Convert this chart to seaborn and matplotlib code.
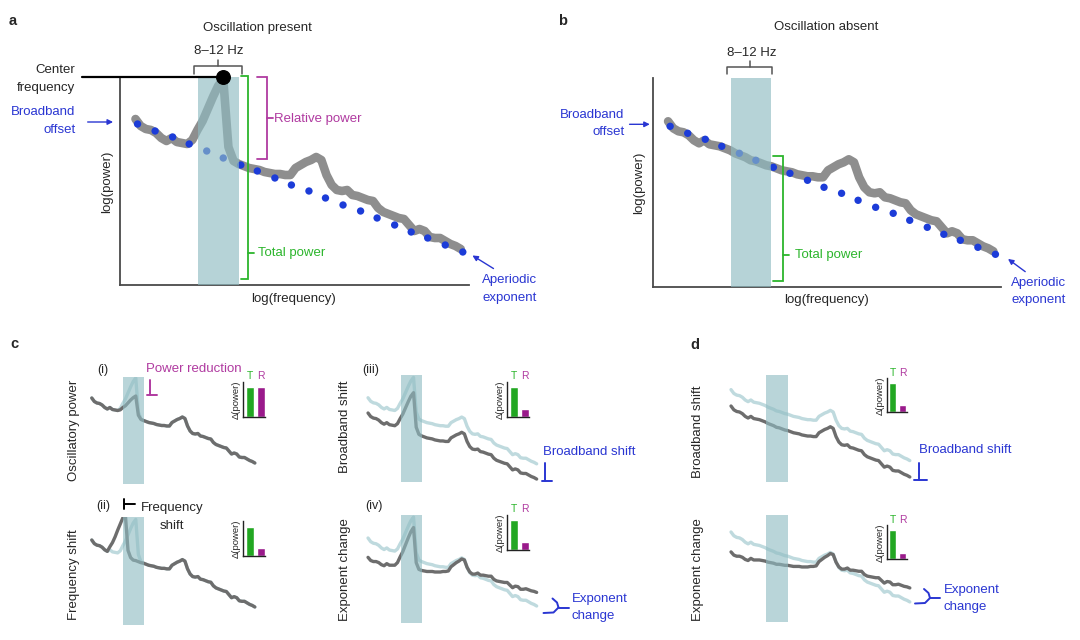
import numpy as np
import pandas as pd
import matplotlib
matplotlib.use("Agg")
import matplotlib.pyplot as plt
import seaborn as sns

sns.set_theme(style="white")
plt.rcParams['font.family'] = ['Liberation Sans', 'DejaVu Sans']

# ---------------- data (arbitrary log units) ----------------
log_freq = list(range(15, 331, 5))
base_spectrum = [166, 159, 156, 155, 152, 147, 144, 147, 143, 142,
                 141, 139, 137, 134, 132, 130, 127, 126, 124, 122,
                 121, 119, 117, 116, 115, 113, 112, 111, 111, 110,
                 110, 117, 120, 123, 125, 128, 125, 110, 100, 95,
                 94, 95, 90, 89, 87, 85, 84, 77, 73, 71,
                 69, 67, 66, 60, 54, 56, 54, 48, 47, 47,
                 44, 41, 39, 36]
alpha_peak = [0] * 11 + [6, 18, 30, 44, 58, 72, 80, 14, 2] + [0] * 44
fit_freq = [17, 34, 51, 67, 84, 100, 117, 133, 150, 166, 183, 199, 216, 233, 249, 266, 282, 298, 315, 332]
fit_power = [161, 154, 148, 141, 134, 127, 120, 114, 107, 100, 94, 87, 80, 74, 67, 60, 53, 47, 40, 33]
band_lo, band_hi = 76, 115
peak_reduction = 0.55
peak_shift_steps = 4
broadband_shift = 30
exponent_tilt = 0.2
tilt_pivot = 200
bar_labels = ["T", "R"]
bars_c_i = [0.86, 0.86]
bars_c_ii = [0.84, 0.22]
bars_c_iii = [0.86, 0.21]
bars_c_iv = [0.86, 0.24]
bars_d_top = [0.87, 0.19]
bars_d_bot = [0.86, 0.19]

# ---------------- styles ----------------
W, H = 1080, 640
BLUE = "#2a36d2"
DOT = "#1c3cd8"
GREEN = "#2cb52c"
GREEN_BAR = "#22a722"
MAG = "#b03aa0"
MAG_BAR = "#9a1a8b"
BAND = "#8fbcc2"
GRAY_THICK = "#8e8e8e"
GRAY = "#6d6d6d"
LIGHT = "#bfdade"
FS = 9.5
LS = 1.6

fig = plt.figure(figsize=(W / 100, H / 100), dpi=100)
fig.patch.set_facecolor("white")


def px_axes(left, top, width, height):
    return fig.add_axes([left / W, 1 - (top + height) / H, width / W, height / H])


ov = px_axes(0, 0, W, H)
ov.set_xlim(0, W)
ov.set_ylim(H, 0)
ov.axis("off")

freq = np.array(log_freq, dtype=float)
base = np.array(base_spectrum, dtype=float)
peak = np.array(alpha_peak, dtype=float)
peak_shifted = np.array(alpha_peak[peak_shift_steps:] + [0] * peak_shift_steps, dtype=float)
tilt = exponent_tilt * (freq - tilt_pivot)


def vbracket(ax, x, y0, y1, tick, mid_y, mid_len, color, lw=1.3):
    ax.plot([x + tick, x, x, x + tick], [y0, y0, y1, y1], color=color, lw=lw, clip_on=False,
            solid_joinstyle="miter")
    ax.plot([x, x + mid_len], [mid_y, mid_y], color=color, lw=lw, clip_on=False)


def hbracket(ax, x0, x1, y, drop, rise, color="#555555", lw=1.1):
    ax.plot([x0, x0, x1, x1], [y - drop, y, y, y - drop], color=color, lw=lw, clip_on=False)
    xm = (x0 + x1) / 2
    ax.plot([xm, xm], [y, y + rise], color=color, lw=lw, clip_on=False)


def big_panel(ax, spectrum, xmax, ymax):
    ax.set_xlim(0, xmax)
    ax.set_ylim(0, ymax)
    df = pd.DataFrame({"f": freq, "p": spectrum})
    sns.lineplot(data=df, x="f", y="p", ax=ax, color=GRAY_THICK, lw=6.2, errorbar=None,
                 solid_capstyle="round", solid_joinstyle="round", zorder=2)
    sns.scatterplot(x=fit_freq, y=fit_power, ax=ax, color=DOT, s=28, edgecolor="none",
                    linewidth=0, zorder=3)
    ax.axvspan(band_lo, band_hi, color=BAND, alpha=0.65, lw=0, zorder=4)
    ax.set_xticks([])
    ax.set_yticks([])
    ax.set_xlabel("")
    ax.set_ylabel("")
    for s in ["top", "right"]:
        ax.spines[s].set_visible(False)
    for s in ["left", "bottom"]:
        ax.spines[s].set_color("#4a4a4a")
        ax.spines[s].set_linewidth(1.3)
    ax.patch.set_alpha(0)


# ---------------- panel a ----------------
axA = px_axes(120, 77, 349, 208)
spec_a = base + peak
big_panel(axA, spec_a, 338, 208)
ipk = int(np.argmax(spec_a))
pk_x, pk_y = freq[ipk], spec_a[ipk]
axA.plot([-37, pk_x], [pk_y + 2, pk_y + 2], color="black", lw=1.6, clip_on=False, zorder=6)
axA.scatter([pk_x], [pk_y + 2], s=95, color="black", zorder=7, clip_on=False)
axA.text(133, 257, "Oscillation present", ha="center", va="center", fontsize=FS)
axA.text(96, 234, "8–12 Hz", ha="center", va="center", fontsize=FS)
hbracket(axA, 72, 118, 219, 8, 6)
axA.text(-43, 206, "Center\nfrequency", ha="right", va="center", fontsize=FS, linespacing=LS)
axA.text(-43, 164, "Broadband\noffset", ha="right", va="center", fontsize=FS, color=BLUE,
         linespacing=LS)
axA.annotate("", xy=(-4, 163), xytext=(-34, 163),
             arrowprops=dict(arrowstyle="-|>", color=BLUE, lw=1.0, mutation_scale=8),
             annotation_clip=False)
axA.text(-12, 103, "log(power)", rotation=90, ha="center", va="center", fontsize=FS)
axA.text(168, -14, "log(frequency)", ha="center", va="center", fontsize=FS)
vbracket(axA, 142, 208, 126, -9, 167, 6, MAG)
axA.text(149, 166, "Relative power", ha="left", va="center", fontsize=FS, color=MAG)
vbracket(axA, 124, 209, 6, -7, 32, 6, GREEN)
axA.text(134, 32, "Total power", ha="left", va="center", fontsize=FS, color=GREEN)
axA.text(377, -4, "Aperiodic\nexponent", ha="center", va="center", fontsize=FS, color=BLUE,
         linespacing=LS)
axA.annotate("", xy=(339, 31), xytext=(364, 15),
             arrowprops=dict(arrowstyle="-|>", color=BLUE, lw=1.0, mutation_scale=8),
             annotation_clip=False)

# ---------------- panel b ----------------
axB = px_axes(652.6, 78.3, 348, 209)
big_panel(axB, base, 337, 209)
axB.text(168, 260, "Oscillation absent", ha="center", va="center", fontsize=FS)
axB.text(96, 234, "8–12 Hz", ha="center", va="center", fontsize=FS)
hbracket(axB, 72, 116, 220, 7, 6)
axB.text(-27, 164, "Broadband\noffset", ha="right", va="center", fontsize=FS, color=BLUE,
         linespacing=LS)
axB.annotate("", xy=(0, 163), xytext=(-25, 163),
             arrowprops=dict(arrowstyle="-|>", color=BLUE, lw=1.0, mutation_scale=8),
             annotation_clip=False)
axB.text(-13, 104, "log(power)", rotation=90, ha="center", va="center", fontsize=FS)
axB.text(168, -13, "log(frequency)", ha="center", va="center", fontsize=FS)
vbracket(axB, 126, 131, 6, -9, 32, 6, GREEN)
axB.text(138, 32, "Total power", ha="left", va="center", fontsize=FS, color=GREEN)
axB.text(374, -4, "Aperiodic\nexponent", ha="center", va="center", fontsize=FS, color=BLUE,
         linespacing=LS)
axB.annotate("", xy=(342, 30), xytext=(363, 14),
             arrowprops=dict(arrowstyle="-|>", color=BLUE, lw=1.0, mutation_scale=8),
             annotation_clip=False)


# ---------------- small panels ----------------
def small_panel(left, top, width, height, ylim, light, dark):
    ax = px_axes(left, top, width, height)
    ax.set_xlim(0, 340)
    ax.set_ylim(*ylim)
    sns.lineplot(x=freq, y=light, ax=ax, color=LIGHT, lw=2.4, errorbar=None, zorder=2)
    sns.lineplot(x=freq, y=dark, ax=ax, color=GRAY, lw=2.4, errorbar=None, zorder=3)
    ax.axvspan(band_lo, band_hi, color=BAND, alpha=0.62, lw=0, zorder=4)
    ax.axis("off")
    return ax


def bar_inset(left, top, width, height, vals, show_tr=True):
    ax = px_axes(left, top, width, height)
    df = pd.DataFrame({"k": bar_labels, "v": vals})
    sns.barplot(data=df, x="k", y="v", hue="k", palette=[GREEN_BAR, MAG_BAR], ax=ax,
                width=0.7, legend=False, saturation=1)
    ax.set_xlim(-0.6, 1.4)
    ax.set_ylim(0, 1)
    ax.set_xticks([])
    ax.set_yticks([])
    ax.set_xlabel("")
    ax.set_ylabel("")
    for s in ["top", "right"]:
        ax.spines[s].set_visible(False)
    for s in ["left", "bottom"]:
        ax.spines[s].set_color("#222222")
        ax.spines[s].set_linewidth(1.0)
    ax.patch.set_alpha(0)
    ax.text(-0.33, 0.48, "Δ(power)", rotation=90, ha="center", va="center", fontsize=6.8,
            transform=ax.transAxes)
    if show_tr:
        ax.text(0, 1.16, "T", ha="center", va="center", fontsize=7.5, color=GREEN)
        ax.text(1, 1.16, "R", ha="center", va="center", fontsize=7.5, color=MAG)
    return ax


small_panel(84, 377, 176, 107, (-6, 208), base + peak, base + peak_reduction * peak)
small_panel(84, 517, 176, 108, (1, 210.7), base + peak, base + peak_shifted)
small_panel(360, 375, 182, 107, (30.2, 240.8), base + peak + broadband_shift, base + peak)
small_panel(360, 515, 182, 108, (3.5, 210), base + peak, base + peak + tilt)
small_panel(722.5, 375, 193, 107, (26.8, 222.8), base + broadband_shift, base)
small_panel(722.5, 515, 193, 107, (-1.3, 197.6), base, base + tilt)

bar_inset(243.4, 381.7, 22, 35, bars_c_i)
bar_inset(243.4, 521, 22, 35, bars_c_ii, show_tr=False)
bar_inset(507.3, 381.7, 22, 35, bars_c_iii)
bar_inset(507.3, 515, 22, 35, bars_c_iv)
bar_inset(886.7, 378.3, 20, 33.4, bars_d_top)
bar_inset(886.7, 525, 20, 34.3, bars_d_bot)

# ---------------- overlay text / markers (pixel coords) ----------------
for lab, x, y in [("a", 13, 21), ("b", 563, 21), ("c", 14, 344), ("d", 695, 345)]:
    ov.text(x, y, lab, fontsize=10.5, fontweight="bold", ha="center", va="center")

for lab, x, y in [("(i)", 103, 370), ("(ii)", 103, 506), ("(iii)", 371, 370), ("(iv)", 374, 506)]:
    ov.text(x, y, lab, fontsize=9, ha="center", va="center")

for lab, x, y in [("Oscillatory power", 74, 430), ("Frequency shift", 74, 575),
                  ("Broadband shift", 345, 427), ("Exponent change", 345, 570),
                  ("Broadband shift", 698, 432), ("Exponent change", 698, 570)]:
    ov.text(x, y, lab, fontsize=FS, rotation=90, ha="center", va="center")

# power reduction
ov.plot([150, 150], [380, 395], color=MAG, lw=1.4)
ov.plot([147, 157], [395, 395], color=MAG, lw=1.4)
ov.text(146.5, 369, "Power reduction", fontsize=FS, color=MAG, ha="left", va="center")

# frequency shift
ov.plot([124.3, 124.3], [498.5, 508.5], color="black", lw=1.4)
ov.plot([124.3, 135], [504, 504], color="black", lw=1.4)
ov.text(171.7, 517, "Frequency\nshift", fontsize=FS, ha="center", va="center", linespacing=LS)

# broadband shift markers
for (x, y0, y1, h0, h1, tx, ty) in [(545, 463, 481, 541.5, 552, 543, 452),
                                    (919.3, 463, 479.5, 914, 927, 919, 450)]:
    ov.plot([x, x], [y0, y1], color=BLUE, lw=1.4)
    ov.plot([h0, h1], [y1, y1], color=BLUE, lw=1.4)
    ov.text(tx, ty, "Broadband shift", fontsize=FS, color=BLUE, ha="left", va="center")

# exponent change braces
for (jx, jy, tx, ty) in [(558.5, 607.5, 572, 607.5), (930, 598, 944, 598.5)]:
    ov.plot([jx - 15, jx - 5, jx], [jy + 5.5, jy + 5, jy], color=BLUE, lw=1.4,
            solid_joinstyle="round")
    ov.plot([jx - 6, jx - 1.5, jx], [jy - 9, jy - 5, jy], color=BLUE, lw=1.4,
            solid_joinstyle="round")
    ov.plot([jx, jx + 10], [jy, jy], color=BLUE, lw=1.4)
    ov.text(tx, ty, "Exponent\nchange", fontsize=FS, color=BLUE, ha="left", va="center",
            linespacing=LS)

fig.savefig("out.png", dpi=100, facecolor="white")
